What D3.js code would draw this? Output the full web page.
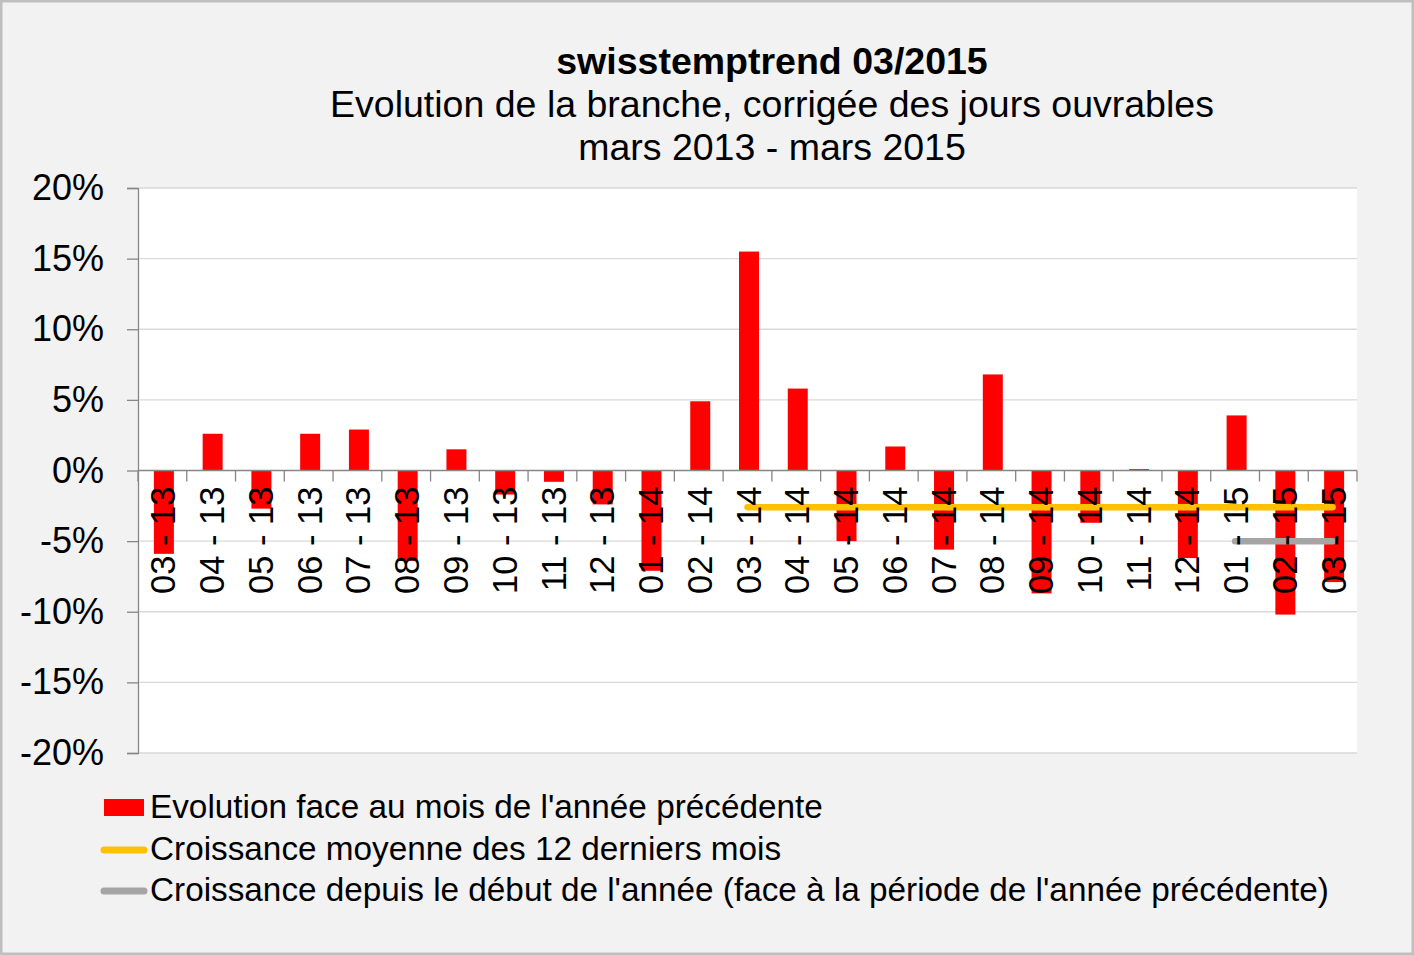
<!DOCTYPE html>
<html>
<head>
<meta charset="utf-8">
<script src="https://cdn.jsdelivr.net/npm/d3@7"></script>
<style>
  body { margin: 0; background: #ffffff; }
</style>
</head>
<body>
<div id="body"></div>
<script>
// data
var months = ["03 - 13", "04 - 13", "05 - 13", "06 - 13", "07 - 13", "08 - 13", "09 - 13",
  "10 - 13", "11 - 13", "12 - 13", "01 - 14", "02 - 14", "03 - 14", "04 - 14", "05 - 14",
  "06 - 14", "07 - 14", "08 - 14", "09 - 14", "10 - 14", "11 - 14", "12 - 14", "01 - 15",
  "02 - 15", "03 - 15"];

var evolution = [-5.9, 2.6, -2.7, 2.6, 2.9, -6.4, 1.5, -1.7, -0.8, -2.4, -7.1, 4.9, 15.5,
  5.8, -5.0, 1.7, -5.6, 6.8, -8.7, -3.7, 0.1, -6.2, 3.9, -10.2, -7.9];

// 12-month average, only shown from 03-14
var average12 = [null, null, null, null, null, null, null, null, null, null, null, null,
  -2.6, -2.6, -2.6, -2.6, -2.6, -2.6, -2.6, -2.6, -2.6, -2.6, -2.6, -2.6, -2.6];

// year to date, only 2015
var yearToDate = [null, null, null, null, null, null, null, null, null, null, null, null,
  null, null, null, null, null, null, null, null, null, null, -5.0, -5.0, -5.0];

var yTicks = [20, 15, 10, 5, 0, -5, -10, -15, -20];

var titleLines = ["Evolution de la branche, corrigée des jours ouvrables", "mars 2013 - mars 2015"];

var legendLabels = ["Evolution face au mois de l'année précédente",
  "Croissance moyenne des 12 derniers mois",
  "Croissance depuis le début de l'année (face à la période de l'année précédente)"];

var width = 1414;
var height = 955;

var barColor = "#ff0000";
var averageColor = "#ffc000";
var ytdColor = "#a5a5a5";
var axisColor = "#868686";
var gridColor = "#d9d9d9";
var fontFamily = "'Liberation Sans', Arial, sans-serif";

var svg = d3
  .select("#body")
  .append("svg")
  .attr("width", width)
  .attr("height", height);

// background + border
svg.append("rect")
  .attr("x", 1.25)
  .attr("y", 1.25)
  .attr("width", width - 2.5)
  .attr("height", height - 2.5)
  .attr("fill", "#f2f2f2")
  .attr("stroke", "#bfbfbf")
  .attr("stroke-width", 2.5);

var plot = { left: 138, right: 1357, top: 188, bottom: 753 };

var x = d3.scaleBand()
  .domain(months)
  .range([plot.left, plot.right])
  .paddingInner(0.59)
  .paddingOuter(0.295);

var xBand = d3.scaleBand().domain(months).range([plot.left, plot.right]);

var y = d3.scaleLinear().domain([-20, 20]).range([plot.bottom, plot.top]);

// plot area
svg.append("rect")
  .attr("x", plot.left)
  .attr("y", plot.top)
  .attr("width", plot.right - plot.left)
  .attr("height", plot.bottom - plot.top)
  .attr("fill", "#ffffff");

//======================= Y AXIS ============================

var yAxis = svg.append("g")
  .attr("transform", "translate(" + plot.left + ",0)")
  .call(d3.axisLeft(y)
    .tickValues(yTicks)
    .tickSize(11)
    .tickPadding(23)
    .tickFormat(function (d) { return d + "%"; }));

yAxis.select(".domain").attr("stroke", axisColor).attr("stroke-width", 1.3);
yAxis.selectAll(".tick line").attr("stroke", axisColor).attr("stroke-width", 1.3);
yAxis.selectAll(".tick text")
  .attr("fill", "#000000")
  .attr("font-size", 36)
  .style("font-family", fontFamily);

// gridlines
svg.append("g")
  .selectAll("line")
  .data(yTicks.filter(function (d) { return d !== 0; }))
  .enter()
  .append("line")
  .attr("x1", plot.left + 1)
  .attr("x2", plot.right)
  .attr("y1", function (d) { return y(d); })
  .attr("y2", function (d) { return y(d); })
  .attr("stroke", gridColor)
  .attr("stroke-width", 1.3);

//======================= BARS ============================

svg.append("g")
  .selectAll("rect")
  .data(evolution)
  .enter()
  .append("rect")
  .attr("x", function (d, i) { return x(months[i]) + 1.5; })
  .attr("width", x.bandwidth())
  .attr("y", function (d) { return y(Math.max(0, d)); })
  .attr("height", function (d) { return Math.abs(y(d) - y(0)); })
  .attr("fill", barColor);

//======================= X AXIS ============================

var xAxis = svg.append("g")
  .attr("transform", "translate(0," + y(0) + ")");

xAxis.append("line")
  .attr("x1", plot.left)
  .attr("x2", plot.right)
  .attr("stroke", axisColor)
  .attr("stroke-width", 1.3);

var boundaries = months.map(function (m) { return xBand(m); }).concat([plot.right]);

xAxis.selectAll(".xtick")
  .data(boundaries)
  .enter()
  .append("line")
  .attr("class", "xtick")
  .attr("x1", function (d) { return d; })
  .attr("x2", function (d) { return d; })
  .attr("y1", 0)
  .attr("y2", 11)
  .attr("stroke", axisColor)
  .attr("stroke-width", 1.3);

//======================= LINES ============================

function drawLine(values, color) {
  var line = d3.line()
    .defined(function (d) { return d !== null; })
    .x(function (d, i) { return xBand(months[i]) + xBand.bandwidth() / 2; })
    .y(function (d) { return y(d); });

  svg.append("path")
    .datum(values)
    .attr("d", line)
    .attr("fill", "none")
    .attr("stroke", color)
    .attr("stroke-width", 6.5)
    .attr("stroke-linecap", "round")
    .attr("stroke-linejoin", "round");
}

drawLine(average12, averageColor);
drawLine(yearToDate, ytdColor);

// category labels (drawn on top of bars like the original)
svg.append("g")
  .selectAll("text")
  .data(months)
  .enter()
  .append("text")
  .attr("transform", function (d) {
    return "translate(" + (xBand(d) + xBand.bandwidth() / 2 + 1) + "," + (y(0) + 16) + ") rotate(-90)";
  })
  .attr("text-anchor", "end")
  .attr("dy", "0.35em")
  .attr("font-size", 34.5)
  .style("font-family", fontFamily)
  .attr("fill", "#000000")
  .text(function (d) { return d; });

//======================= TITLE ============================

var title = svg.append("g").style("font-family", fontFamily).attr("fill", "#000000");

title.append("text")
  .attr("x", 772)
  .attr("y", 74)
  .attr("text-anchor", "middle")
  .attr("font-size", 37.5)
  .attr("font-weight", "bold")
  .text("swisstemptrend 03/2015");

title.selectAll(".sub")
  .data(titleLines)
  .enter()
  .append("text")
  .attr("class", "sub")
  .attr("x", 772)
  .attr("y", function (d, i) { return 117 + i * 43; })
  .attr("text-anchor", "middle")
  .attr("font-size", 37.5)
  .text(function (d) { return d; });

//======================= LEGEND ============================

var legend = svg.append("g").style("font-family", fontFamily);

legend.append("rect")
  .attr("x", 104)
  .attr("y", 799)
  .attr("width", 40)
  .attr("height", 17)
  .attr("fill", barColor);

legend.selectAll("line")
  .data([averageColor, ytdColor])
  .enter()
  .append("line")
  .attr("x1", 104)
  .attr("x2", 144)
  .attr("y1", function (d, i) { return 850 + i * 41; })
  .attr("y2", function (d, i) { return 850 + i * 41; })
  .attr("stroke", function (d) { return d; })
  .attr("stroke-width", 7)
  .attr("stroke-linecap", "round");

legend.selectAll("text")
  .data(legendLabels)
  .enter()
  .append("text")
  .attr("x", 150)
  .attr("y", function (d, i) { return 818 + i * 41.5; })
  .attr("font-size", 33.3)
  .attr("fill", "#000000")
  .text(function (d) { return d; });
</script>
</body>
</html>
